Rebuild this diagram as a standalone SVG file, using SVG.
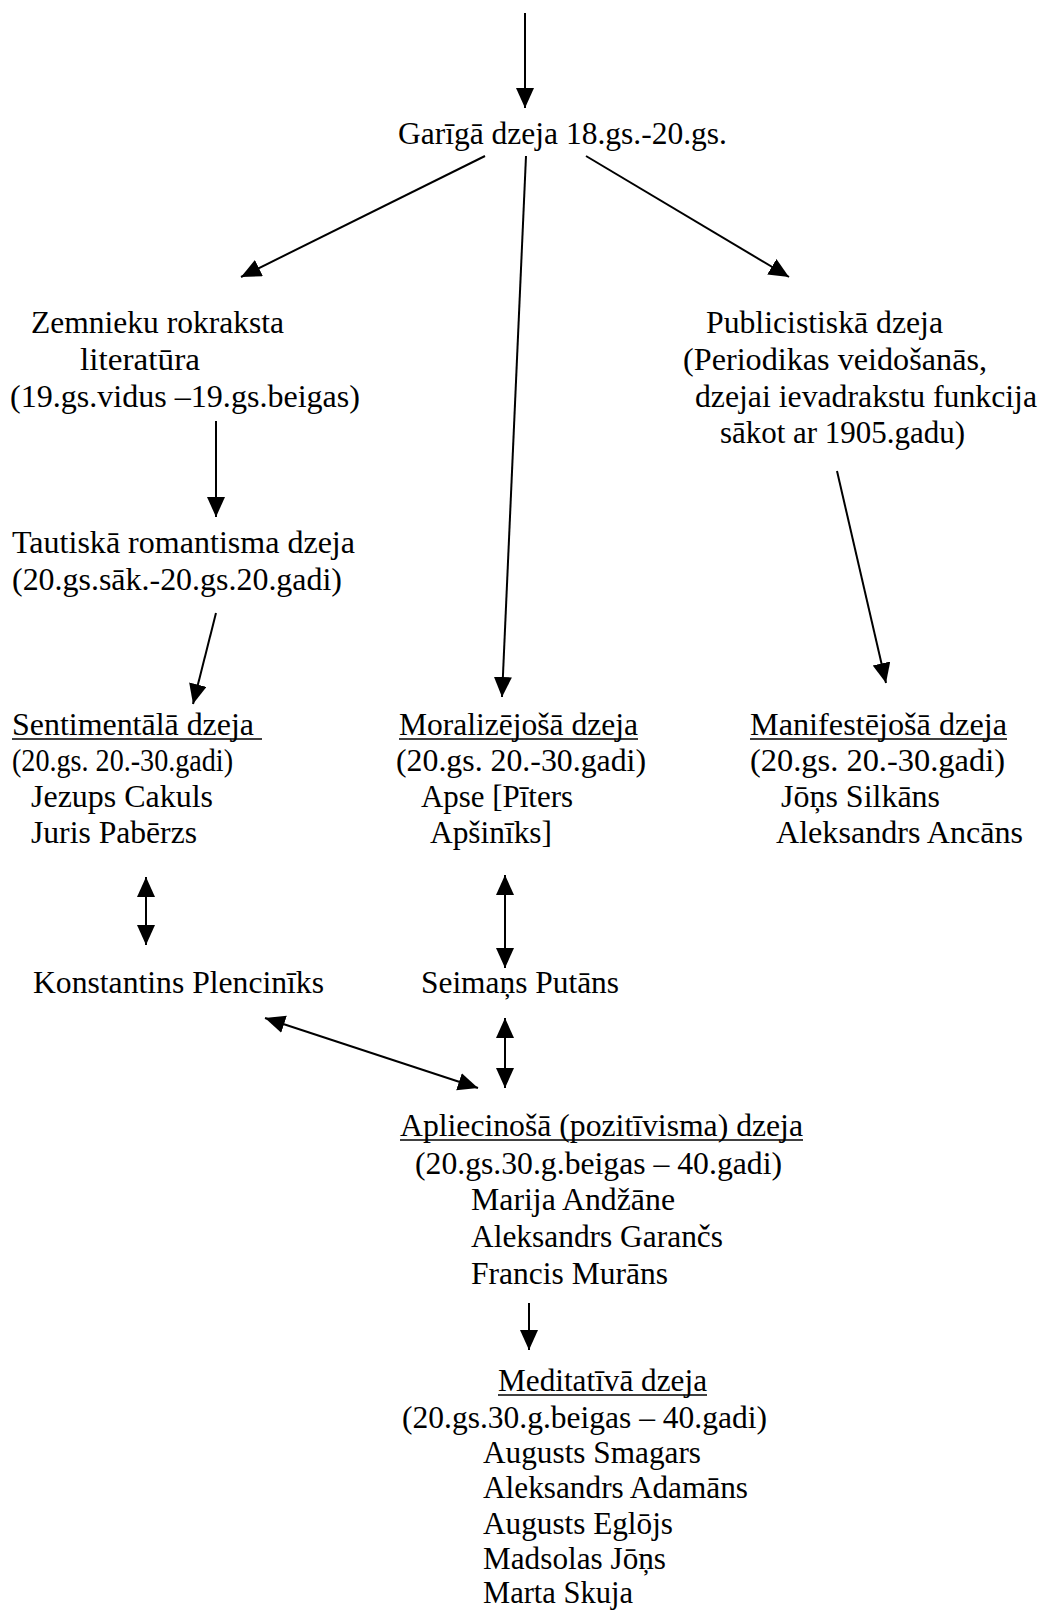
<svg xmlns="http://www.w3.org/2000/svg" width="1041" height="1612" viewBox="0 0 1041 1612">
<style>
text{font-family:"Liberation Serif","Times New Roman",serif;font-size:31px;fill:#000}
.c line{stroke:#000;stroke-width:2}
.u{stroke:#000;stroke-width:1.6}
</style>
<defs>
<marker id="ah" markerUnits="userSpaceOnUse" markerWidth="22" markerHeight="20" refX="20" refY="9" orient="auto-start-reverse" viewBox="0 0 22 20">
<path d="M0,0 L20,9 L0,18 z" fill="#000"/>
</marker>
</defs>
<rect width="1041" height="1612" fill="#fff"/>
<g id="n-gariga"><text x="398" y="144" textLength="329" lengthAdjust="spacingAndGlyphs">Garīgā dzeja 18.gs.-20.gs.</text></g>
<g id="n-zemnieku">
<text x="31" y="333" textLength="253" lengthAdjust="spacingAndGlyphs">Zemnieku rokraksta</text>
<text x="80" y="370" textLength="120" lengthAdjust="spacingAndGlyphs">literatūra</text>
<text x="10" y="407" textLength="350" lengthAdjust="spacingAndGlyphs">(19.gs.vidus –19.gs.beigas)</text>
</g>
<g id="n-tautiska">
<text x="12" y="553" textLength="343" lengthAdjust="spacingAndGlyphs">Tautiskā romantisma dzeja</text>
<text x="12" y="590" textLength="330" lengthAdjust="spacingAndGlyphs">(20.gs.sāk.-20.gs.20.gadi)</text>
</g>
<g id="n-publicistiska">
<text x="706" y="333" textLength="237" lengthAdjust="spacingAndGlyphs">Publicistiskā dzeja</text>
<text x="683" y="370" textLength="304" lengthAdjust="spacingAndGlyphs">(Periodikas veidošanās,</text>
<text x="695" y="407" textLength="342" lengthAdjust="spacingAndGlyphs">dzejai ievadrakstu funkcija</text>
<text x="720" y="443" textLength="245" lengthAdjust="spacingAndGlyphs">sākot ar 1905.gadu)</text>
</g>
<g id="n-sentimentala">
<text x="12" y="735" textLength="242" lengthAdjust="spacingAndGlyphs">Sentimentālā dzeja</text>
<line class="u" x1="12" y1="739" x2="262" y2="739"/>
<text x="12" y="771" textLength="221" lengthAdjust="spacingAndGlyphs">(20.gs. 20.-30.gadi)</text>
<text x="31" y="807" textLength="182" lengthAdjust="spacingAndGlyphs">Jezups Cakuls</text>
<text x="31" y="843" textLength="166" lengthAdjust="spacingAndGlyphs">Juris Pabērzs</text>
</g>
<g id="n-moralizejosa">
<text x="399" y="735" textLength="239" lengthAdjust="spacingAndGlyphs">Moralizējošā dzeja</text>
<line class="u" x1="399" y1="739" x2="638" y2="739"/>
<text x="396" y="771" textLength="250" lengthAdjust="spacingAndGlyphs">(20.gs. 20.-30.gadi)</text>
<text x="421" y="807" textLength="152" lengthAdjust="spacingAndGlyphs">Apse [Pīters</text>
<text x="430" y="843" textLength="122" lengthAdjust="spacingAndGlyphs">Apšinīks]</text>
</g>
<g id="n-manifestejosa">
<text x="750" y="735" textLength="257" lengthAdjust="spacingAndGlyphs">Manifestējošā dzeja</text>
<line class="u" x1="750" y1="739" x2="1007" y2="739"/>
<text x="750" y="771" textLength="255" lengthAdjust="spacingAndGlyphs">(20.gs. 20.-30.gadi)</text>
<text x="781" y="807" textLength="159" lengthAdjust="spacingAndGlyphs">Jōņs Silkāns</text>
<text x="776" y="843" textLength="247" lengthAdjust="spacingAndGlyphs">Aleksandrs Ancāns</text>
</g>
<g id="n-plencinks"><text x="33" y="993" textLength="291" lengthAdjust="spacingAndGlyphs">Konstantins Plencinīks</text></g>
<g id="n-putans"><text x="421" y="993" textLength="198" lengthAdjust="spacingAndGlyphs">Seimaņs Putāns</text></g>
<g id="n-apliecinosa">
<text x="400" y="1136" textLength="403" lengthAdjust="spacingAndGlyphs">Apliecinošā (pozitīvisma) dzeja</text>
<line class="u" x1="400" y1="1140" x2="803" y2="1140"/>
<text x="415" y="1174" textLength="367" lengthAdjust="spacingAndGlyphs">(20.gs.30.g.beigas – 40.gadi)</text>
<text x="471" y="1210" textLength="204" lengthAdjust="spacingAndGlyphs">Marija Andžāne</text>
<text x="471" y="1247" textLength="252" lengthAdjust="spacingAndGlyphs">Aleksandrs Garančs</text>
<text x="471" y="1284" textLength="197" lengthAdjust="spacingAndGlyphs">Francis Murāns</text>
</g>
<g id="n-meditativa">
<text x="498" y="1391" textLength="209" lengthAdjust="spacingAndGlyphs">Meditatīvā dzeja</text>
<line class="u" x1="498" y1="1395" x2="707" y2="1395"/>
<text x="402" y="1428" textLength="365" lengthAdjust="spacingAndGlyphs">(20.gs.30.g.beigas – 40.gadi)</text>
<text x="483" y="1463" textLength="218" lengthAdjust="spacingAndGlyphs">Augusts Smagars</text>
<text x="483" y="1498" textLength="265" lengthAdjust="spacingAndGlyphs">Aleksandrs Adamāns</text>
<text x="483" y="1534" textLength="190" lengthAdjust="spacingAndGlyphs">Augusts Eglōjs</text>
<text x="483" y="1569" textLength="183" lengthAdjust="spacingAndGlyphs">Madsolas Jōņs</text>
<text x="483" y="1603" textLength="150" lengthAdjust="spacingAndGlyphs">Marta Skuja</text>
</g>
<g id="connectors" class="c">
<line x1="525" y1="13" x2="525" y2="108" marker-end="url(#ah)"/>
<line x1="485" y1="156" x2="241" y2="277" marker-end="url(#ah)"/>
<line x1="526" y1="156" x2="502" y2="697" marker-end="url(#ah)"/>
<line x1="586" y1="156" x2="789" y2="277" marker-end="url(#ah)"/>
<line x1="216" y1="421" x2="216" y2="517" marker-end="url(#ah)"/>
<line x1="216" y1="613" x2="193" y2="704" marker-end="url(#ah)"/>
<line x1="837" y1="471" x2="886" y2="683" marker-end="url(#ah)"/>
<line x1="146" y1="877" x2="146" y2="945" marker-start="url(#ah)" marker-end="url(#ah)"/>
<line x1="505" y1="875" x2="505" y2="968" marker-start="url(#ah)" marker-end="url(#ah)"/>
<line x1="265" y1="1018" x2="478" y2="1088" marker-start="url(#ah)" marker-end="url(#ah)"/>
<line x1="505" y1="1018" x2="505" y2="1088" marker-start="url(#ah)" marker-end="url(#ah)"/>
<line x1="529" y1="1303" x2="529" y2="1350" marker-end="url(#ah)"/>
</g>
</svg>
